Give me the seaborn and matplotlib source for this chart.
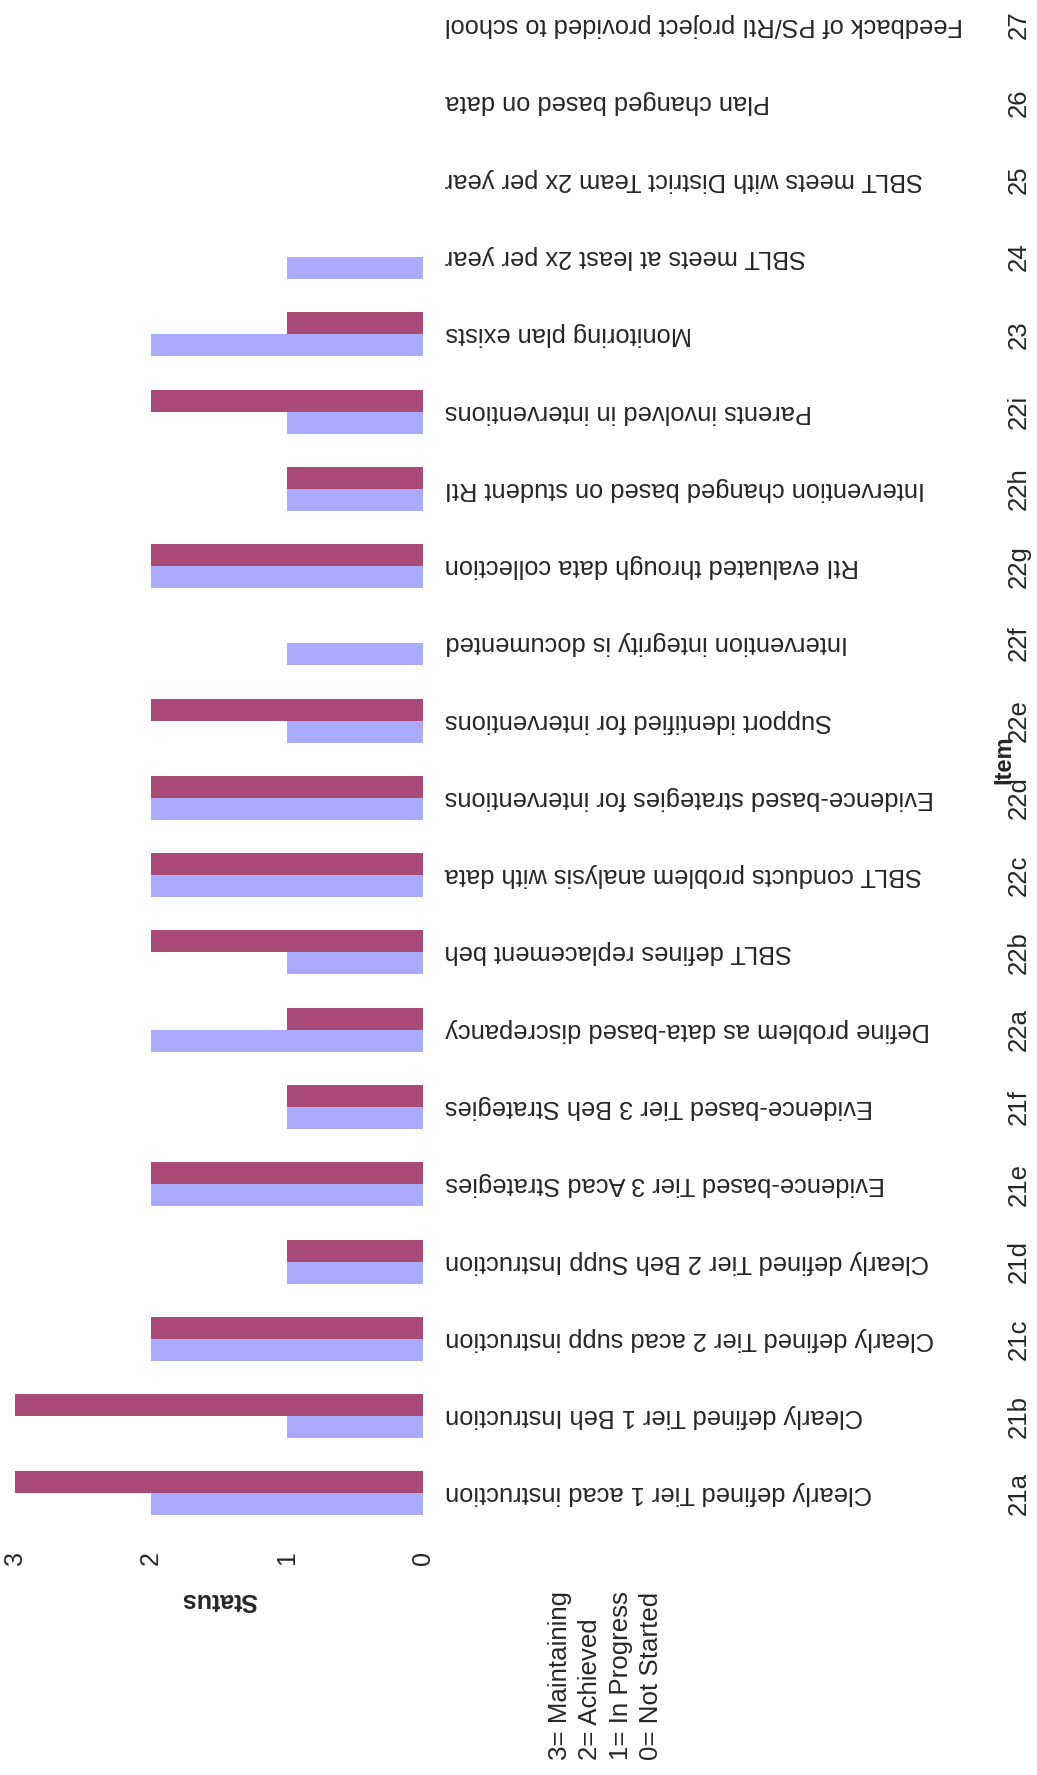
import numpy as np
import pandas as pd
import matplotlib
matplotlib.use("Agg")
import matplotlib.pyplot as plt
import matplotlib.transforms as mtransforms
import seaborn as sns

# Dados do gráfico
items = ["21a", "21b", "21c", "21d", "21e", "21f", "22a", "22b", "22c", "22d",
         "22e", "22f", "22g", "22h", "22i", "23", "24", "25", "26", "27"]
descriptions = [
    "Clearly defined Tier 1 acad instruction",
    "Clearly defined Tier 1 Beh Instruction",
    "Clearly defined Tier 2 acad supp instruction",
    "Clearly defined Tier 2 Beh Supp Instruction",
    "Evidence-based Tier 3 Acad Strategies",
    "Evidence-based Tier 3 Beh Strategies",
    "Define problem as data-based discrepancy",
    "SBLT defines replacement beh",
    "SBLT conducts problem analysis with data",
    "Evidence-based strategies for interventions",
    "Support identified for interventions",
    "Intervention integrity is documented",
    "RtI evaluated through data collection",
    "Intervention changed based on student RtI",
    "Parents involved in interventions",
    "Monitoring plan exists",
    "SBLT meets at least 2x per year",
    "SBLT meets with District Team 2x per year",
    "Plan changed based on data",
    "Feedback of PS/RtI project provided to school",
]
series_a = [3, 3, 2, 1, 2, 1, 1, 2, 2, 2, 2, 0, 2, 1, 2, 1, 0, 0, 0, 0]  # roxo
series_b = [2, 1, 2, 1, 2, 1, 2, 1, 2, 2, 1, 1, 2, 1, 1, 2, 1, 0, 0, 0]  # lilás
status_ticks = [0, 1, 2, 3]
legend_lines = ["3= Maintaining", "2= Achieved", "1= In Progress", "0= Not Started"]

W, H = 1037, 1775

sns.set_theme(style="white")
plt.rcParams["font.family"] = ["Liberation Sans", "DejaVu Sans"]

df = pd.DataFrame({
    "item": items * 2,
    "value": series_a + series_b,
    "series": ["a"] * len(items) + ["b"] * len(items),
})

fig = plt.figure(figsize=(W / 100, H / 100), dpi=100)
# eixo: zero em x=423 px, valor 3 em x=15 px
ax = fig.add_axes([15 / W, 1 - 1532 / H, (423 - 15) / W, 1530 / H])

order = items[::-1]
sns.barplot(data=df, x="value", y="item", hue="series", order=order,
            hue_order=["a", "b"], palette={"a": "#aa4a76", "b": "#aaaaff"},
            orient="h", width=0.57, saturation=1, linewidth=0, legend=False,
            ax=ax)

ax.set_xlim(3, 0)
ax.set_ylim(len(items) - 0.5, -0.3)
sns.despine(ax=ax, left=True, bottom=True)
ax.set_xlabel("")
ax.set_ylabel("")
ax.set_yticks([])
ax.set_xticks(status_ticks)
ax.set_xticklabels([str(v) for v in status_ticks], rotation=90, fontsize=18)
ax.tick_params(axis="x", length=0, pad=14)

# textos das categorias (de cabeça para baixo) e códigos dos itens
trans = mtransforms.blended_transform_factory(fig.transFigure, ax.transData)
for k, (code, desc) in enumerate(zip(order, descriptions[::-1])):
    ax.text(445 / W, k, desc, transform=trans, rotation=180, ha="left",
            va="center", fontsize=18.3, clip_on=False)
    ax.text(1019 / W, k, code, transform=trans, rotation=90, ha="center",
            va="center", fontsize=18.5, clip_on=False)

ax.text(1004 / W, (len(items) - 1) / 2, "Item", transform=trans, rotation=90,
        ha="center", va="center", fontsize=17, fontweight="bold", clip_on=False)

fig.text(219 / W, 1 - 1600 / H, "Status", rotation=180, ha="center",
         va="center", fontsize=18, fontweight="bold")

fig.text(548 / W, 1 - 1760 / H, "\n".join(legend_lines), rotation=90,
         ha="left", va="bottom", multialignment="left", fontsize=18.6,
         linespacing=1.33)

fig.savefig("out.png", dpi=100)
